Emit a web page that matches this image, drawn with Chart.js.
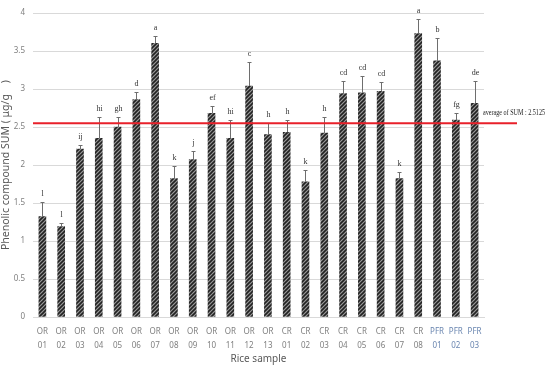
<!DOCTYPE html>
<html>
<head>
<meta charset="utf-8">
<script src="https://cdn.jsdelivr.net/npm/chart.js@4/dist/chart.umd.min.js"></script>
<style>
  html, body { margin: 0; padding: 0; background: #fff; }
  #wrap { width: 550px; height: 365px; }
</style>
</head>
<body>
<div id="wrap"><canvas id="myChart" width="550" height="365"></canvas></div>
<script>
// sample names, split in two lines like the original axis
const groups = ['OR','OR','OR','OR','OR','OR','OR','OR','OR','OR','OR','OR','OR',
                'CR','CR','CR','CR','CR','CR','CR','CR','PFR','PFR','PFR'];
const numbers = ['01','02','03','04','05','06','07','08','09','10','11','12','13',
                 '01','02','03','04','05','06','07','08','01','02','03'];
// mean SUM (ug/g) and upper error
const sumValues = [1.32, 1.19, 2.21, 2.35, 2.50, 2.86, 3.60, 1.82, 2.07, 2.68, 2.35, 3.04, 2.40,
                   2.43, 1.78, 2.42, 2.94, 2.95, 2.97, 1.82, 3.73, 3.37, 2.59, 2.81];
const errTops = [1.51, 1.24, 2.26, 2.63, 2.63, 2.96, 3.70, 1.99, 2.18, 2.78, 2.59, 3.35, 2.55,
                 2.59, 1.94, 2.63, 3.10, 3.17, 3.09, 1.91, 3.92, 3.67, 2.69, 3.11];
const letters = ['l','l','ij','hi','gh','d','a','k','j','ef','hi','c','h',
                 'h','k','h','cd','cd','cd','k','a','b','fg','de'];
const yTicks = [0, 0.5, 1, 1.5, 2, 2.5, 3, 3.5, 4];
const avgLineValue = 2.55;
const avgText = 'average of SUM : 2.5125';

function hatch() {
  const c = document.createElement('canvas');
  c.width = 4; c.height = 4;
  const g = c.getContext('2d');
  g.fillStyle = '#9a9a9a';
  g.fillRect(0, 0, 4, 4);
  g.strokeStyle = '#222';
  g.lineWidth = 1.6;
  g.beginPath();
  g.moveTo(-1, 5); g.lineTo(5, -1);
  g.moveTo(-1, 1); g.lineTo(1, -1);
  g.moveTo(3, 5); g.lineTo(5, 3);
  g.stroke();
  return g.createPattern(c, 'repeat');
}

const extras = {
  id: 'extras',
  afterDatasetsDraw(chart) {
    const ctx = chart.ctx;
    const x = chart.scales.x, y = chart.scales.y;
    ctx.save();
    // error bars + letters
    sumValues.forEach((v, i) => {
      const cx = Math.round(x.getPixelForValue(i)) + 0.5;
      const yb = y.getPixelForValue(v);
      const yt = Math.round(y.getPixelForValue(errTops[i])) + 0.5;
      ctx.strokeStyle = '#6e6e6e';
      ctx.lineWidth = 1;
      ctx.beginPath();
      ctx.moveTo(cx, yb); ctx.lineTo(cx, yt);
      ctx.moveTo(cx - 2, yt); ctx.lineTo(cx + 2, yt);
      ctx.stroke();
      ctx.fillStyle = '#333';
      ctx.font = '8px "Liberation Serif"';
      ctx.textAlign = 'center';
      ctx.textBaseline = 'alphabetic';
      ctx.fillText(letters[i], cx, yt - 7);
    });
    // average line
    const ay = y.getPixelForValue(avgLineValue);
    ctx.strokeStyle = '#e8202a';
    ctx.lineWidth = 2;
    ctx.beginPath();
    ctx.moveTo(chart.chartArea.left, ay);
    ctx.lineTo(517, ay);
    ctx.stroke();
    ctx.fillStyle = '#222';
    ctx.font = '7.5px "Liberation Serif"';
    ctx.textAlign = 'left';
    ctx.fillText(avgText, 483, ay - 8, 62);
    ctx.restore();
  }
};

const ctx = document.getElementById('myChart').getContext('2d');
new Chart(ctx, {
  type: 'bar',
  data: {
    labels: groups.map((g, i) => [g, numbers[i]]),
    datasets: [{
      data: sumValues,
      backgroundColor: hatch(),
      borderWidth: 0,
      barThickness: 7
    }]
  },
  options: {
    responsive: false,
    animation: false,
    layout: { padding: { top: 13, right: 66, left: 0, bottom: 0 } },
    plugins: { legend: { display: false }, tooltip: { enabled: false } },
    scales: {
      x: {
        grid: { display: false },
        border: { color: '#d9d9d9' },
        ticks: {
          color: (c) => groups[c.index] === 'PFR' ? '#6a86b0' : '#7f7f7f',
          font: { family: '"Noto Sans"', size: 8, lineHeight: 1.85 },
          maxRotation: 0, autoSkip: false, padding: -1
        },
        title: {
          display: true, text: 'Rice sample', color: '#595959',
          font: { family: '"Noto Sans"', size: 10 }, padding: { top: -10, bottom: 0 }
        },
        afterFit(s) { s.height = 48; }
      },
      y: {
        min: 0, max: 4,
        afterBuildTicks(s) { s.ticks = yTicks.map(v => ({ value: v })); },
        grid: { color: '#d9d9d9', drawTicks: false },
        border: { display: false },
        ticks: {
          color: '#7f7f7f', font: { family: '"Noto Sans"', size: 8 }, padding: 8,
          callback: (v) => String(v)
        },
        title: {
          display: true, text: 'Phenolic compound SUM ( μg/g    )', color: '#595959',
          font: { family: '"Noto Sans"', size: 10.5 }, padding: 0
        },
        afterFit(s) { s.width = 33; }
      }
    }
  },
  plugins: [extras]
});
</script>
</body>
</html>
